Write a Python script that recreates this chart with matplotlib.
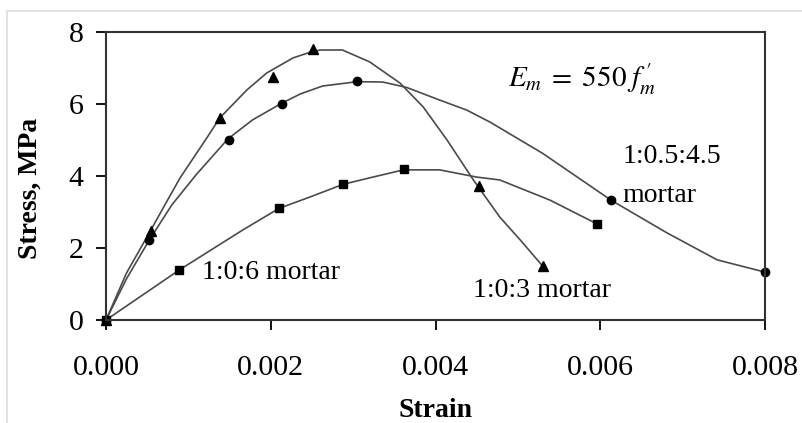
import matplotlib.pyplot as plt
from matplotlib.patches import Rectangle

plt.rcParams['font.family'] = ['Liberation Serif', 'DejaVu Serif']
plt.rcParams['mathtext.fontset'] = 'stix'

# measured points (strain, stress MPa)
mix3_x = [0.0, 0.00055, 0.00138, 0.00203, 0.00251, 0.00453, 0.0053]
mix3_y = [0.0, 2.47, 5.61, 6.75, 7.53, 3.72, 1.50]
mix45_x = [0.0, 0.00052, 0.00149, 0.00214, 0.00305, 0.00613, 0.0080]
mix45_y = [0.0, 2.22, 5.00, 6.00, 6.64, 3.33, 1.33]
mix6_x = [0.0, 0.00089, 0.0021, 0.00288, 0.00362, 0.00596]
mix6_y = [0.0, 1.39, 3.10, 3.77, 4.19, 2.67]

# fitted curves
fit3_x = [0.0, 0.00025, 0.00053, 0.00074, 0.0009, 0.00123, 0.00138, 0.00171, 0.00195,
          0.00227, 0.00248, 0.0026, 0.00287, 0.0032, 0.00357, 0.00385, 0.00414,
          0.00446, 0.00478, 0.00503, 0.0053]
fit3_y = [0.0, 1.31, 2.44, 3.30, 3.95, 5.08, 5.61, 6.39, 6.86,
          7.28, 7.44, 7.50, 7.50, 7.17, 6.58, 5.92, 5.00,
          3.89, 2.86, 2.22, 1.50]
fit45_x = [0.0, 0.00025, 0.00052, 0.00080, 0.00110, 0.00148, 0.00178, 0.00214, 0.00236,
           0.00263, 0.00305, 0.00336, 0.00365, 0.00405, 0.00438, 0.00466, 0.0053,
           0.00613, 0.00681, 0.00742, 0.0080]
fit45_y = [0.0, 1.15, 2.20, 3.20, 4.05, 5.03, 5.56, 6.03, 6.28,
           6.50, 6.62, 6.61, 6.46, 6.11, 5.83, 5.50, 4.63,
           3.33, 2.42, 1.67, 1.33]
fit6_x = [0.0, 0.00089, 0.00166, 0.0021, 0.00248, 0.00288, 0.00324, 0.00361, 0.00405,
          0.0045, 0.00478, 0.00539, 0.00596]
fit6_y = [0.0, 1.39, 2.50, 3.10, 3.42, 3.77, 3.97, 4.17, 4.17,
          3.97, 3.89, 3.33, 2.67]

fig = plt.figure(figsize=(8.02, 4.23), dpi=100)
fig.patches.append(Rectangle((7 / 802, -0.1), 1.2, (1 - 11 / 423) + 0.1, transform=fig.transFigure,
                             fill=False, edgecolor='#dddddd', linewidth=1.2))
ax = fig.add_axes([106 / 802, 1 - 320 / 423, 659 / 802, 288 / 423])

lc = '#4a4a4a'
ax.plot(fit3_x, fit3_y, color=lc, lw=1.2)
ax.plot(fit45_x, fit45_y, color=lc, lw=1.2)
ax.plot(fit6_x, fit6_y, color=lc, lw=1.2)
ax.plot(mix3_x, mix3_y, '^', color='black', ms=6.5, clip_on=False)
ax.plot(mix45_x, mix45_y, 'o', color='black', ms=6, clip_on=False)
ax.plot(mix6_x, mix6_y, 's', color='black', ms=6, clip_on=False)

ax.set_xlim(0, 0.008)
ax.set_ylim(0, 8)
ax.set_xticks([0.0, 0.002, 0.004, 0.006, 0.008])
ax.set_xticklabels(['0.000', '0.002', '0.004', '0.006', '0.008'])
ax.set_yticks([0, 2, 4, 6, 8])
ax.tick_params(axis='x', direction='out', length=7, width=1.3, pad=18, labelsize=21.5)
ax.tick_params(axis='y', direction='out', length=7, width=1.3, pad=9, labelsize=21.5)
for s in ax.spines.values():
    s.set_linewidth(1.5)
    s.set_color('#333333')

ax.set_xlabel('Strain', fontsize=20, fontweight='bold')
ax.set_ylabel('Stress, MPa', fontsize=20, fontweight='bold')
ax.xaxis.set_label_coords(0.5, -0.27)
ax.yaxis.set_label_coords(-0.096, 0.458)

ax.text(0.001165, 1.33, '1:0:6 mortar', fontsize=20, va='center', ha='left')
ax.text(0.004455, 0.81, '1:0:3 mortar', fontsize=20, va='center', ha='left')
ax.text(0.006276, 4.53, '1:0.5:4.5', fontsize=20, va='center', ha='left')
ax.text(0.006264, 3.45, 'mortar', fontsize=20, va='center', ha='left')
ax.text(0.00488, 6.47, r"$E_m\;=\;550\;f_m^{\,\prime}$", fontsize=21, va='baseline', ha='left')

fig.savefig('out.png', dpi=100)
